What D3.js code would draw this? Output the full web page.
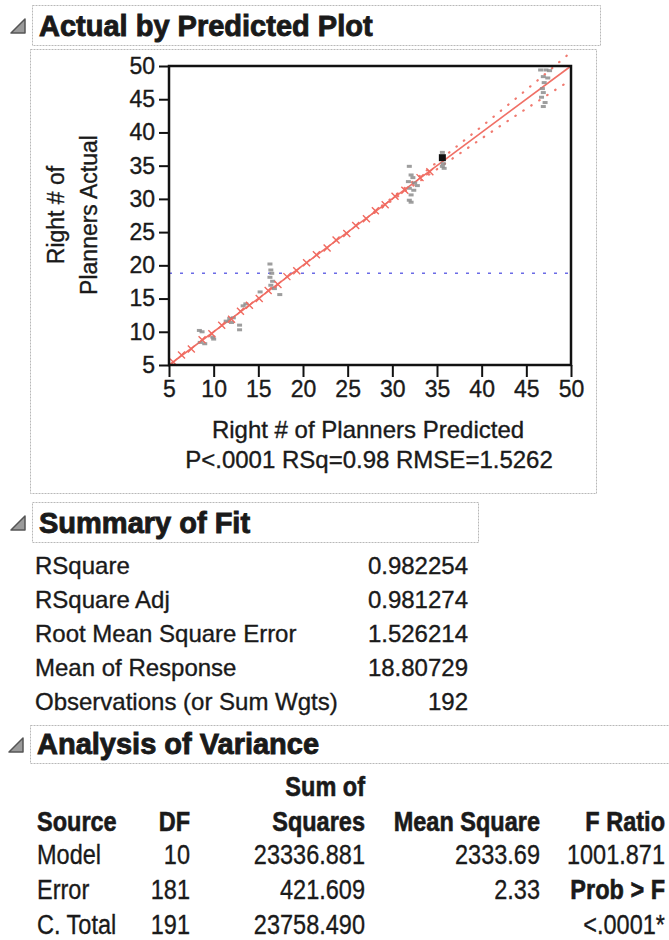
<!DOCTYPE html>
<html>
<head>
<meta charset="utf-8">
<script src="https://cdn.jsdelivr.net/npm/d3@7"></script>
<style>
  body { margin: 0; background: #fff; }
  svg text { font-family: "Liberation Sans", Arial, sans-serif; fill: #1a1a1a; stroke: #1a1a1a; stroke-width: 0.35px; }
</style>
</head>
<body>
<div id="chart"></div>
<script>
// axis ticks
var xTicks = [5, 10, 15, 20, 25, 30, 35, 40, 45, 50];
var yTicks = [5, 10, 15, 20, 25, 30, 35, 40, 45, 50];
var meanResponse = 18.80729;

// red "x" rows sitting on the fit line [predicted, actual]
var redRows = [
  [5.5, 5.4], [6.4, 6.5], [7.5, 7.4], [8.7, 8.8], [9.8, 9.7], [10.9, 11.0],
  [12.0, 11.9], [13.0, 13.1], [14.0, 14.0], [15.1, 15.0], [16.1, 16.2], [17.2, 17.1],
  [18.2, 18.3], [19.3, 19.2], [20.4, 20.4], [21.5, 21.6], [22.7, 22.6], [23.7, 23.8],
  [24.9, 24.8], [25.9, 26.0], [27.1, 27.0], [28.1, 28.2], [29.2, 29.1], [30.3, 30.4],
  [31.4, 31.3], [33.1, 33.2], [34.2, 34.1]
];

// gray rows [predicted, actual]
var grayRows = [
  [8.4, 10.2], [8.7, 10.0], [8.5, 8.4], [9.0, 8.2], [9.9, 9.2], [10.0, 8.9],
  [11.4, 11.6], [11.8, 12.0], [12.2, 12.1], [12.0, 11.4], [12.9, 11.0], [12.9, 10.3],
  [13.3, 13.9], [13.6, 14.2], [15.2, 16.0],
  [16.3, 20.2], [16.4, 19.3], [16.5, 18.8], [16.3, 18.2], [16.6, 17.6], [16.4, 17.0],
  [16.8, 16.5], [17.4, 15.6],
  [31.9, 34.9], [32.1, 33.6], [32.3, 33.2], [31.8, 32.6], [32.5, 32.4], [32.8, 32.0],
  [31.9, 31.6], [32.4, 31.3], [32.1, 30.6], [31.9, 29.8], [32.1, 29.5],
  [35.6, 37.0], [35.7, 35.3], [35.6, 34.9], [35.8, 34.6],
  [46.6, 49.4], [47.2, 49.4], [47.6, 49.3], [46.9, 48.4], [47.4, 48.2], [47.0, 47.5],
  [46.8, 46.6], [46.9, 46.0], [46.7, 45.3], [47.1, 44.5], [46.9, 43.9]
];

// highlighted row
var blackRow = [35.6, 36.2];

// confidence curve half widths along the fit
var bandX = [28, 30, 32, 34, 36, 38, 40, 42, 44, 46, 48, 50];
var bandHalf = [0.1, 0.2, 0.3, 0.45, 0.6, 0.75, 0.9, 1.1, 1.3, 1.55, 1.8, 2.1];

// summary of fit
var fitLabels = ['RSquare', 'RSquare Adj', 'Root Mean Square Error', 'Mean of Response', 'Observations (or Sum Wgts)'];
var fitValues = ['0.982254', '0.981274', '1.526214', '18.80729', '192'];

// analysis of variance
var anovaSource = ['Model', 'Error', 'C. Total'];
var anovaDF = ['10', '181', '191'];
var anovaSS = ['23336.881', '421.609', '23758.490'];
var anovaMS = ['2333.69', '2.33', ''];
var anovaF = ['1001.871', 'Prob > F', '<.0001*'];

var width = 669, height = 940;

var svg = d3.select('#chart').append('svg')
    .attr('width', width)
    .attr('height', height);

svg.append('rect').attr('width', width).attr('height', height).attr('fill', '#fff');

function dashedBox(x0, y0, x1, y1) {
    svg.append('rect')
        .attr('x', x0 + 0.5).attr('y', y0 + 0.5)
        .attr('width', x1 - x0).attr('height', y1 - y0)
        .attr('fill', 'none')
        .attr('stroke', '#b8b8b8')
        .attr('stroke-width', 1)
        .attr('stroke-dasharray', '2,1');
}

function headerTriangle(cx, cy) {
    svg.append('path')
        .attr('d', `M${cx - 7},${cy + 7} L${cx + 7},${cy + 7} L${cx + 7},${cy - 7} Z`)
        .attr('fill', '#9a9a9a')
        .attr('stroke', '#555')
        .attr('stroke-width', 1.5)
        .attr('stroke-linejoin', 'round');
}

function header(text, x0, y0, x1, y1) {
    dashedBox(x0, y0, x1, y1);
    headerTriangle(x0 - 14, (y0 + y1) / 2 + 1);
    svg.append('text')
        .attr('x', x0 + 7)
        .attr('y', y1 - 9)
        .style('font-size', '29px')
        .style('font-weight', 700)
        .style('stroke-width', '0.9px')
        .text(text);
}

// ---- Actual by Predicted Plot ----
header('Actual by Predicted Plot', 32, 5, 600, 45);
dashedBox(30, 49, 596, 493);

var x = d3.scaleLinear().domain([5, 50]).range([169, 571]);
var y = d3.scaleLinear().domain([5, 50]).range([365, 66]);

var plot = svg.append('g');

function styleAxis(g) {
    g.select('.domain').remove();
    g.selectAll('line').attr('stroke', '#111').attr('stroke-width', 2);
    g.selectAll('text').style('font-size', '23px').attr('fill', '#1a1a1a')
        .style('font-family', '"Liberation Sans", Arial, sans-serif');
}

plot.append('g')
    .attr('transform', `translate(0, ${y(5)})`)
    .call(d3.axisBottom(x).tickValues(xTicks).tickSize(12).tickPadding(4))
    .call(styleAxis);

plot.append('g')
    .attr('transform', `translate(${x(5)}, 0)`)
    .call(d3.axisLeft(y).tickValues(yTicks).tickSize(10).tickPadding(4))
    .call(styleAxis);

// mean line
plot.append('line')
    .attr('x1', x(5)).attr('x2', x(50))
    .attr('y1', y(meanResponse)).attr('y2', y(meanResponse))
    .attr('stroke', '#6b6be6')
    .attr('stroke-width', 1.6)
    .attr('stroke-dasharray', '3,8');

// confidence curves
var upper = d3.line()
    .x(function(d, i) { return x(d); })
    .y(function(d, i) { return y(d + bandHalf[i]); });
var lower = d3.line()
    .x(function(d, i) { return x(d); })
    .y(function(d, i) { return y(d - bandHalf[i]); });
[upper, lower].forEach(function(l) {
    plot.append('path')
        .datum(bandX)
        .attr('d', l)
        .attr('fill', 'none')
        .attr('stroke', '#f07a70')
        .attr('stroke-width', 2.2)
        .attr('stroke-linecap', 'round')
        .attr('stroke-dasharray', '0.5,9');
});

// fit line
plot.append('line')
    .attr('x1', x(5)).attr('y1', y(5))
    .attr('x2', x(50)).attr('y2', y(50))
    .attr('stroke', '#f07066')
    .attr('stroke-width', 1.6);

// gray rows
plot.selectAll('rect.gray').data(grayRows).enter()
    .append('rect')
    .attr('class', 'gray')
    .attr('x', function(d) { return x(d[0]) - 2.5; })
    .attr('y', function(d) { return y(d[1]) - 1.5; })
    .attr('width', 5)
    .attr('height', 3)
    .attr('fill', '#8d8d8d')
    .attr('opacity', 0.85);

// red x markers
plot.selectAll('path.redx').data(redRows).enter()
    .append('path')
    .attr('class', 'redx')
    .attr('d', function(d) {
        var cx = x(d[0]), cy = y(d[1]), r = 3.5;
        return `M${cx - r},${cy - r}L${cx + r},${cy + r}M${cx - r},${cy + r}L${cx + r},${cy - r}`;
    })
    .attr('stroke', '#f06a60')
    .attr('stroke-width', 1.4)
    .attr('fill', 'none');

// highlighted row
plot.append('rect')
    .attr('x', x(blackRow[0]) - 3.5)
    .attr('y', y(blackRow[1]) - 3.5)
    .attr('width', 7)
    .attr('height', 7)
    .attr('fill', '#111');

// frame
plot.append('rect')
    .attr('x', x(5)).attr('y', y(50))
    .attr('width', x(50) - x(5)).attr('height', y(5) - y(50))
    .attr('fill', 'none')
    .attr('stroke', '#111')
    .attr('stroke-width', 2.5);

// axis titles
svg.append('text')
    .attr('transform', `translate(64, 215) rotate(-90)`)
    .attr('text-anchor', 'middle')
    .style('font-size', '23px')
    .text('Right # of');
svg.append('text')
    .attr('transform', `translate(97, 215) rotate(-90)`)
    .attr('text-anchor', 'middle')
    .style('font-size', '23px')
    .text('Planners Actual');

svg.append('text')
    .attr('x', 368).attr('y', 438)
    .attr('text-anchor', 'middle')
    .style('font-size', '24px')
    .text('Right # of Planners Predicted');
svg.append('text')
    .attr('x', 369).attr('y', 468)
    .attr('text-anchor', 'middle')
    .style('font-size', '24px')
    .text('P<.0001 RSq=0.98 RMSE=1.5262');

// ---- Summary of Fit ----
header('Summary of Fit', 32, 502, 478, 542);

var fitRows = svg.append('g');
fitLabels.forEach(function(label, i) {
    var by = 574 + i * 34;
    fitRows.append('text')
        .attr('x', 35).attr('y', by)
        .style('font-size', '24px')
        .text(label);
    fitRows.append('text')
        .attr('x', 468).attr('y', by)
        .attr('text-anchor', 'end')
        .style('font-size', '24px')
        .text(fitValues[i]);
});

// ---- Analysis of Variance ----
header('Analysis of Variance', 30, 725, 675, 763);

var anova = svg.append('g');
var colRight = [190, 365, 540, 665];

// narrow face is not installed, so squeeze the regular one
function cell(txt, xx, yy, anchor, bold) {
    anova.append('text')
        .attr('transform', `translate(${xx}, ${yy}) scale(0.84, 1)`)
        .attr('text-anchor', anchor)
        .style('font-size', '28px')
        .style('font-weight', bold ? 700 : 400)
        .style('stroke-width', bold ? '0.6px' : '0.35px')
        .text(txt);
}

cell('Sum of', colRight[1], 796, 'end', true);
cell('Source', 37, 831, 'start', true);
cell('DF', colRight[0], 831, 'end', true);
cell('Squares', colRight[1], 831, 'end', true);
cell('Mean Square', colRight[2], 831, 'end', true);
cell('F Ratio', colRight[3], 831, 'end', true);

anovaSource.forEach(function(s, i) {
    var by = 864 + i * 35;
    cell(s, 37, by, 'start', false);
    cell(anovaDF[i], colRight[0], by, 'end', false);
    cell(anovaSS[i], colRight[1], by, 'end', false);
    cell(anovaMS[i], colRight[2], by, 'end', false);
    cell(anovaF[i], colRight[3], by, 'end', anovaF[i] === 'Prob > F');
});
</script>
</body>
</html>
